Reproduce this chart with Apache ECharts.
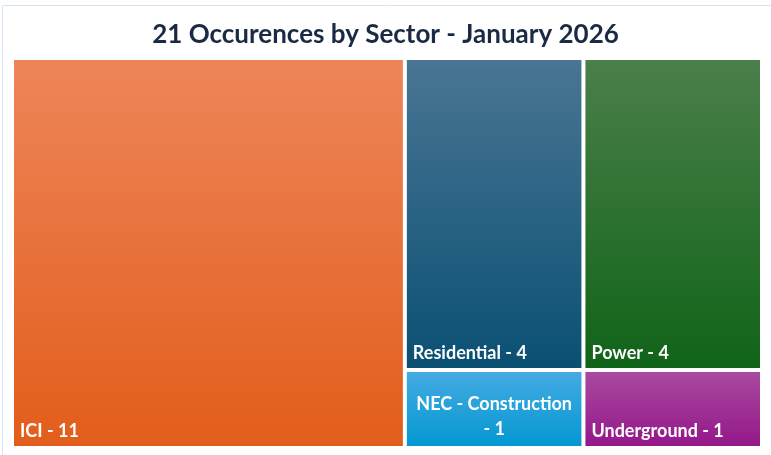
<!DOCTYPE html>
<html>
<head>
<meta charset="utf-8">
<script src="https://cdn.jsdelivr.net/npm/echarts@6/dist/echarts.min.js"></script>
<style>
html,body{margin:0;padding:0;background:#fff;}
#main{width:771px;height:455px;}
</style>
</head>
<body>
<div id="main"></div>
<script>
const titleText = '21 Occurences by Sector - January 2026';
const categories = ['ICI', 'Residential', 'Power', 'NEC - Construction', 'Underground'];
const values = [11, 4, 4, 1, 1];

const gradients = [
  ['#EE8559', '#E25D1B'],
  ['#4A7594', '#0A5073'],
  ['#4B7F4B', '#106418'],
  ['#45AAE2', '#0398D2'],
  ['#A9499F', '#94188A']
];

const data = categories.map((c, i) => {
  const item = {
    name: c,
    value: values[i],
    itemStyle: {
      color: {
        type: 'linear', x: 0, y: 0, x2: 0, y2: 1,
        colorStops: [
          { offset: 0, color: gradients[i][0] },
          { offset: 1, color: gradients[i][1] }
        ]
      }
    }
  };
  if (c === 'NEC - Construction') {
    item.label = {
      position: 'insideBottom',
      align: 'center',
      distance: 4,
      lineHeight: 25,
      formatter: c + '\n- ' + values[i]
    };
  }
  return item;
});

const chart = echarts.init(document.getElementById('main'), null, { renderer: 'canvas' });
chart.setOption({
  animation: false,
  title: {
    text: titleText,
    left: 'center',
    top: 17,
    textStyle: {
      color: '#1B2A44',
      fontSize: 26,
      fontWeight: 'bold',
      fontFamily: 'Lato'
    }
  },
  graphic: [{
    type: 'rect',
    shape: { x: 2.5, y: 5.5, width: 770, height: 460 },
    style: { fill: 'none', stroke: '#D6E4F2', lineWidth: 1 },
    silent: true
  }],
  series: [{
    type: 'treemap',
    left: 13,
    top: 59,
    right: 10,
    bottom: 8,
    roam: false,
    nodeClick: false,
    breadcrumb: { show: false },
    sort: false,
    label: {
      show: true,
      position: 'insideBottomLeft',
      distance: 6,
      padding: 0,
      color: '#fff',
      fontSize: 18,
      fontWeight: 'bold',
      fontFamily: 'Lato',
      formatter: p => p.name + ' - ' + p.value
    },
    upperLabel: { show: false },
    itemStyle: {
      borderWidth: 1,
      borderColor: 'rgba(255,255,255,0.35)',
      gapWidth: 2
    },
    levels: [
      { itemStyle: { gapWidth: 2, borderWidth: 0, borderColor: '#fff' } },
      { itemStyle: { borderWidth: 1, borderColor: 'rgba(255,255,255,0.35)' } }
    ],
    data: data
  }]
});
</script>
</body>
</html>
